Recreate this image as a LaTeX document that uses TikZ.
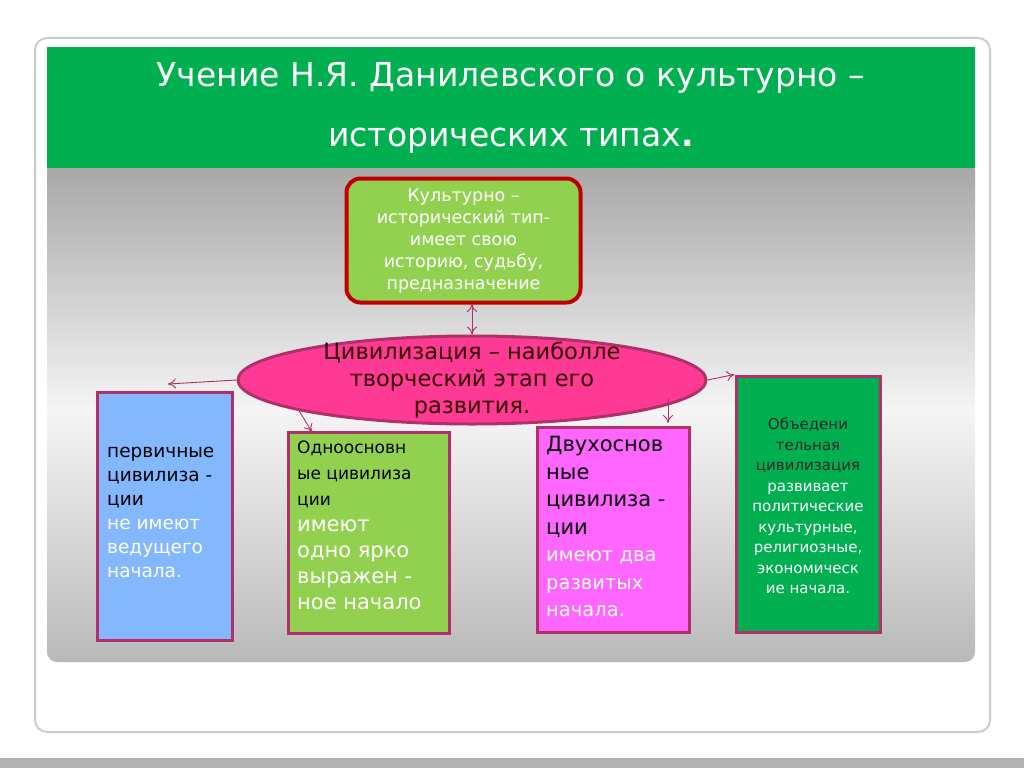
\documentclass[tikz,border=0pt]{standalone}
\usepackage{fontspec}
\setmainfont{DejaVu Sans}
\usetikzlibrary{shapes.geometric,arrows.meta}
\definecolor{hdrgreen}{HTML}{00B050}
\definecolor{lightgreen}{HTML}{92D050}
\definecolor{darkred}{HTML}{C00000}
\definecolor{hotpink}{HTML}{FF3A94}
\definecolor{boxedge}{HTML}{B0306A}
\definecolor{skyblue}{HTML}{83B8FF}
\definecolor{violetpink}{HTML}{FF66FF}
\tikzset{
  every node/.style={inner sep=0pt},
  typebox/.style={draw=boxedge,line width=3pt},
  link/.style={draw=boxedge,line width=0.9pt,-{To[length=8pt,width=10pt]}},
}
\begin{document}
\begin{tikzpicture}[x=1pt,y=-1pt]
	%slide
	\useasboundingbox (0,0) rectangle (1024,768);
	\fill[white] (0,0) rectangle (1024,768);
	\fill[gray!60] (0,758) rectangle (1024,768);
	\filldraw[fill=white,draw=gray!40,line width=2pt,rounded corners=12pt] (35,38) rectangle (990,732);
	\shade[top color=gray!70,bottom color=gray!55,middle color=gray!8,rounded corners=10pt] (47,160) rectangle (975,662);
	\fill[hdrgreen] (47,47) rectangle (975,168);
	%title
	\node[text=white,align=center,font=\fontsize{33}{60}\selectfont] (title) at (511,108)
		{Учение Н.Я. Данилевского о культурно –\\исторических типах\textbf{.}};
	%top box
	\node[draw=darkred,line width=4pt,fill=lightgreen,rounded corners=14pt,minimum width=234pt,minimum height=124pt,
		align=center,text=white,font=\fontsize{17.5}{22}\selectfont] (type) at (463.5,240.5)
		{Культурно –\\исторический тип-\\имеет свою\\историю, судьбу,\\предназначение};
	%ellipse
	\node[ellipse,draw=boxedge,line width=3pt,fill=hotpink,minimum width=468pt,minimum height=88pt] (civ) at (472,380) {};
	\node[align=center,font=\fontsize{22.5}{27}\selectfont,text=black!80!red] (civtext) at (472,380)
		{Цивилизация – наиболле\\творческий этап его\\развития.};
	\coordinate (civsw) at (298,409);
	\coordinate (civse) at (668,398);
	\coordinate (civtop) at (472,304);
	%boxes
	\node[typebox,fill=skyblue,minimum width=135pt,minimum height=248pt] (primary) at (164.5,516) {};
	\node[anchor=north west,align=left,text=white,font=\fontsize{18.5}{24}\selectfont] (primarytext) at (107,447)
		{\textcolor{black}{первичные}\\\textcolor{black}{цивилиза -}\\\textcolor{black}{ции}\\не имеют\\ведущего\\начала.};
	\node[typebox,fill=lightgreen,minimum width=161pt,minimum height=201pt] (single) at (368.5,532.5) {};
	\node[anchor=north west,align=left,text=white,font=\fontsize{21}{26}\selectfont] (singletext) at (297,441)
		{\textcolor{black}{\fontsize{17}{22}\selectfont Одноосновн}\\\textcolor{black}{\fontsize{17}{22}\selectfont ые цивилиза}\\\textcolor{black}{\fontsize{17}{22}\selectfont ции}\\ имеют\\одно  ярко\\выражен -\\ное начало};
	\node[typebox,fill=violetpink,minimum width=152pt,minimum height=205pt] (double) at (613,529.5) {};
	\node[anchor=north west,align=left,text=white,font=\fontsize{21}{27.5}\selectfont] (doubletext) at (546,436)
		{\textcolor{black}{Двухоснов}\\\textcolor{black}{ные}\\\textcolor{black}{цивилиза -}\\\textcolor{black}{ции}\\{\fontsize{19.5}{27.5}\selectfont имеют два}\\{\fontsize{19.5}{27.5}\selectfont развитых}\\{\fontsize{19.5}{27.5}\selectfont начала.}};
	\node[typebox,fill=hdrgreen,minimum width=144pt,minimum height=256pt] (union) at (808,504) {};
	\node[align=center,text=white,font=\fontsize{15}{20.5}\selectfont] (uniontext) at (808,506)
		{\textcolor{black!85}{Объедени}\\\textcolor{black!85}{тельная}\\\textcolor{black!85}{цивилизация}\\развивает\\политические\\культурные,\\религиозные,\\экономическ\\ие начала.};
	%links
	\draw[link,{To[length=8pt,width=10pt]}-{To[length=8pt,width=10pt]}] (civtop) -- (civ.north);
	\draw[link] (civ.west) -- (168,384);
	\draw[link] (civsw) -- (312,432);
	\draw[link] (civse) -- (668,423);
	\draw[link] (civ.east) -- (union.north west);
\end{tikzpicture}
\end{document}
